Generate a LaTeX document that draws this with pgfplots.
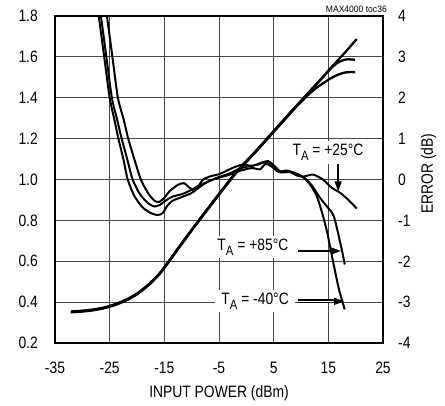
\documentclass[border=0pt]{standalone}
\usepackage{fontspec}
\setmainfont{Liberation Sans}[FakeStretch=0.84]
\newfontfamily\smallfont{Liberation Sans}[FakeStretch=0.92]
\usepackage{pgfplots}
\pgfplotsset{compat=1.18}
\usetikzlibrary{arrows.meta}

\newcommand{\TA}{T\raisebox{-0.28em}{\fontsize{13.5}{14}\selectfont A}}

\begin{document}
\begin{tikzpicture}
\useasboundingbox (0,0) rectangle (445pt,406pt);
\pgfplotsset{
  myax/.style={
    at={(55pt,63pt)}, anchor=south west,
    scale only axis, width=328pt, height=327pt,
    xmin=-35, xmax=25,
    major tick length=0pt,
    axis line style={line width=2.4pt},
    tick label style={font=\fontsize{16.5}{18}\selectfont},
    /pgf/number format/assume math mode=true,
    clip=false,
  }
}
\begin{axis}[myax,
  ymin=0.2, ymax=1.8,
  xtick={-35,-25,-15,-5,5,15,25},
  ytick={0.2,0.4,0.6,0.8,1.0,1.2,1.4,1.6,1.8},
  grid=major, grid style={black!72, line width=0.9pt},
  yticklabel style={/pgf/number format/fixed, /pgf/number format/fixed zerofill, /pgf/number format/precision=1, inner sep=0pt, anchor=east, xshift=-17pt},
  xticklabel style={inner sep=0pt, anchor=north, yshift=-19pt},
  xlabel={INPUT POWER (dBm)},
  xlabel style={at={(axis description cs:0.5,0)}, anchor=north, inner sep=0pt, yshift=-42pt, font=\fontsize{16.5}{18}\selectfont},
]
% output voltage curves
\addplot[black, line width=2.3pt, smooth, tension=0.4] coordinates {
(-32.1,0.352) (-30,0.356) (-28,0.362) (-26,0.372) (-24,0.388) (-22,0.41) (-20,0.44) (-18,0.482) (-16,0.535) (-14,0.605) (-12,0.68) (-10,0.752) (-8,0.823) (-6,0.893) (-4,0.962) (-2,1.03) (0,1.088) (2,1.145) (4,1.205) (6,1.265) (8,1.325) (10,1.383) (12,1.443) (14,1.502) (16,1.562) (18,1.62) (20.2,1.687)};
\addplot[black, line width=2.3pt, smooth, tension=0.4] coordinates {
(-32.1,0.354) (-30,0.358) (-28,0.364) (-26,0.374) (-24,0.39) (-22,0.412) (-20,0.442) (-18,0.484) (-16,0.537) (-14,0.607) (-12,0.682) (-10,0.754) (-8,0.825) (-6,0.895) (-4,0.964) (-2,1.032) (0,1.09) (2,1.147) (4,1.207) (6,1.267) (8,1.327) (10,1.385) (12,1.443) (14,1.50) (15.5,1.545) (16.5,1.568) (17.5,1.582) (18.5,1.588) (19.9,1.586)};
\addplot[black, line width=2.3pt, smooth, tension=0.4] coordinates {
(-32.1,0.350) (-30,0.354) (-28,0.360) (-26,0.370) (-24,0.386) (-22,0.408) (-20,0.438) (-18,0.480) (-16,0.533) (-14,0.603) (-12,0.678) (-10,0.75) (-8,0.821) (-6,0.891) (-4,0.96) (-2,1.028) (0,1.086) (2,1.143) (4,1.203) (6,1.263) (8,1.322) (9,1.352) (10,1.379) (11,1.406) (12,1.43) (13,1.452) (14,1.47) (15,1.488) (16,1.503) (17,1.515) (18,1.523) (19,1.526) (19.9,1.525)};
\end{axis}

\begin{axis}[myax,
  ymin=-4, ymax=4,
  ytick={-4,-3,-2,-1,0,1,2,3,4},
  axis x line=none, axis y line*=right,
  yticklabel style={inner sep=0pt, anchor=west, xshift=15pt},
]
% error curves
\addplot[black, line width=2pt, smooth, tension=0.4] coordinates {
(-27.0,4) (-26,3) (-25.0,2) (-24.2,1.5) (-23.4,1) (-22.5,0.5) (-21.7,0) (-20.5,-0.4) (-19,-0.68) (-17.5,-0.82) (-16.2,-0.87) (-15.3,-0.82) (-14.5,-0.65) (-13.5,-0.52) (-12,-0.44) (-10,-0.33) (-8.5,-0.18) (-7,-0.05) (-5.4,0.03) (-3,0.12) (-1,0.22) (1,0.28) (2.5,0.25) (3.5,0.38) (4.5,0.33) (6,0.18) (8,0.18) (9.5,0.12) (11,0.0) (12,-0.15) (13.5,-0.45) (14.5,-0.62) (15.5,-0.78) (16,-0.9) (16.5,-1.15) (17.1,-1.5) (17.6,-1.8) (18,-2.08)};
\addplot[black, line width=2pt, smooth, tension=0.4] coordinates {
(-26.6,4) (-25.6,3) (-24.6,2) (-23.7,1.5) (-22.8,1) (-21.8,0.5) (-20.8,0) (-19.5,-0.35) (-18,-0.58) (-16.8,-0.66) (-15.8,-0.62) (-14.8,-0.52) (-13.5,-0.42) (-11.6,-0.35) (-10,-0.25) (-8.5,-0.14) (-6.5,-0.02) (-5,0.06) (-3,0.15) (-1.2,0.27) (0.7,0.33) (2,0.36) (3.4,0.42) (4.5,0.35) (6,0.2) (8,0.2) (9.5,0.12) (10.5,0.05) (11.8,-0.15) (12.9,-0.41) (14,-0.88) (14.8,-1.3) (15.7,-1.9) (16.4,-2.35) (17,-2.72) (18,-3.18)};
\addplot[black, line width=2pt, smooth, tension=0.4] coordinates {
(-25.5,4) (-24.5,3) (-23.5,2) (-22.5,1.5) (-21.6,1) (-20.5,0.5) (-19.3,0) (-18,-0.33) (-16.8,-0.52) (-16,-0.55) (-15,-0.45) (-14,-0.28) (-12.5,-0.13) (-11.4,-0.09) (-10.4,-0.2) (-9.6,-0.26) (-8.7,-0.15) (-7.9,0) (-6.5,0.08) (-4.8,0.14) (-2.4,0.29) (-0.6,0.37) (1,0.33) (2.5,0.4) (4,0.45) (5,0.35) (6.2,0.2) (7.5,0.22) (9.2,0.1) (10.4,0.07) (12.2,0.12) (14,0.0) (15.6,-0.2) (17.1,-0.32) (18.6,-0.49) (20.2,-0.71)};

% annotations
\node[fill=white, inner xsep=4pt, inner ysep=3pt, font=\fontsize{16.5}{18}\selectfont] at (axis cs:14.94,0.66) {\TA\ = +25°C};
\draw[line width=1.5pt, -{Triangle[length=10pt,width=7pt]}] (axis cs:16.8,0.37) -- (axis cs:16.8,-0.29);

\node[fill=white, inner xsep=5pt, inner ysep=3pt, font=\fontsize{16.5}{18}\selectfont] at (axis cs:1.2,-1.66) {\TA\ = +85°C};
\draw[line width=1.5pt, -{Triangle[length=10pt,width=7pt]}] (axis cs:9.45,-1.75) -- (axis cs:17.3,-1.75);

\node[fill=white, inner xsep=6pt, inner ysep=3pt, font=\fontsize{16.5}{18}\selectfont] at (axis cs:1.6,-2.98) {\TA\ = -40°C};
\draw[line width=1.2pt, double, double distance=1.3pt, -{Triangle[length=10pt,width=7pt]}] (axis cs:9.45,-2.98) -- (axis cs:17.9,-2.98);

\node[rotate=90, inner sep=0pt, font=\fontsize{16.5}{18}\selectfont] at ([xshift=45.5pt, yshift=6pt]rel axis cs:1,0.5) {ERROR (dB)};
\node[anchor=base east, inner sep=0pt, font=\smallfont\fontsize{9.3}{10}\selectfont] at ([xshift=4pt, yshift=3.5pt]rel axis cs:1,1) {MAX4000 toc36};
\end{axis}
\end{tikzpicture}
\end{document}
